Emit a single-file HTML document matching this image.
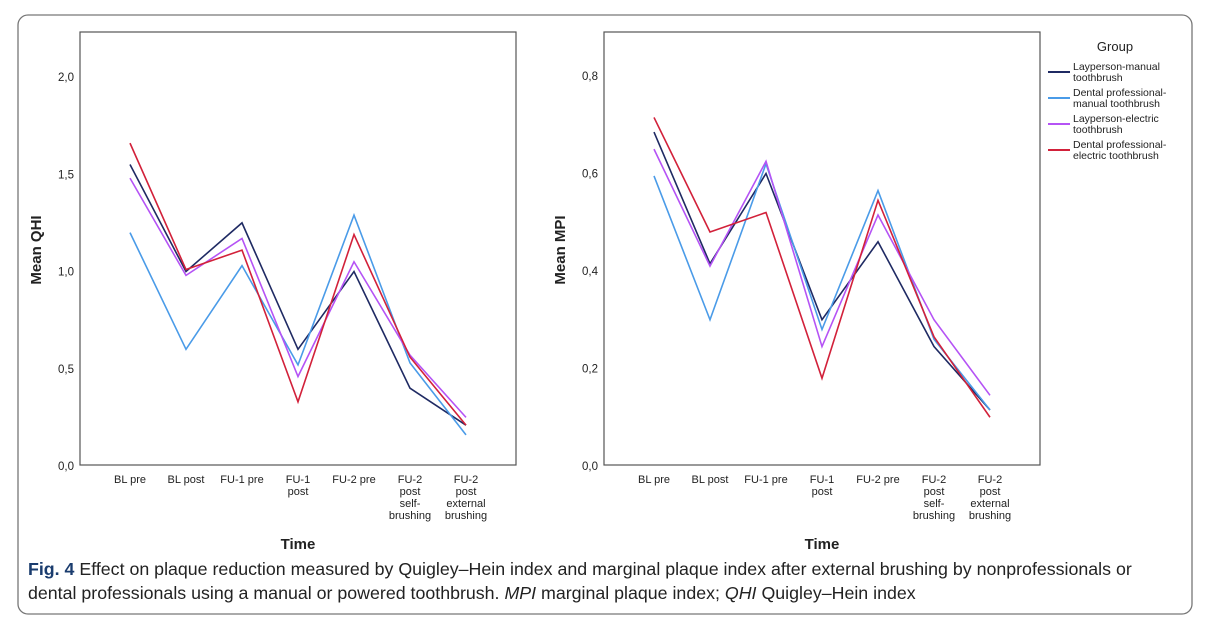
<!DOCTYPE html>
<html><head><meta charset="utf-8"><style>
body{margin:0;width:1207px;height:629px;background:#fff;overflow:hidden;font-family:"Liberation Sans",sans-serif}
svg{position:absolute;left:0;top:0}
</style></head><body>
<svg id="chart" width="1207" height="629">
<rect x="18" y="15" width="1174" height="599" rx="10" fill="none" stroke="#777" stroke-width="1.3"/>
<g id="left"></g>
<g id="right"></g>
<g id="legend"></g>
<text x="28" y="575" font-size="17.8" fill="#222"><tspan font-weight="bold" fill="#1a3c6e">Fig. 4</tspan>  Effect on plaque reduction measured by Quigley–Hein index and marginal plaque index after external brushing by nonprofessionals or</text>
<text x="28" y="599" font-size="17.8" fill="#222">dental professionals using a manual or powered toothbrush. <tspan font-style="italic">MPI</tspan> marginal plaque index; <tspan font-style="italic">QHI</tspan> Quigley–Hein index</text>
</svg>
<script>
const categories=[["BL pre"],["BL post"],["FU-1 pre"],["FU-1","post"],["FU-2 pre"],["FU-2","post","self-","brushing"],["FU-2","post","external","brushing"]];
const groupNames=[["Layperson-manual","toothbrush"],["Dental professional-","manual toothbrush"],["Layperson-electric","toothbrush"],["Dental professional-","electric toothbrush"]];
const groupColors=["#1f2a63","#4a9be8","#b553f5","#d2213a"];
const qhiLayManual=[1.55,1.0,1.25,0.6,1.0,0.4,0.21];
const qhiDentManual=[1.2,0.6,1.03,0.52,1.29,0.53,0.16];
const qhiLayElectric=[1.48,0.98,1.17,0.46,1.05,0.57,0.25];
const qhiDentElectric=[1.66,1.01,1.11,0.33,1.19,0.56,0.21];
const mpiLayManual=[0.685,0.415,0.60,0.30,0.46,0.245,0.115];
const mpiDentManual=[0.595,0.30,0.62,0.28,0.565,0.26,0.115];
const mpiLayElectric=[0.65,0.41,0.625,0.245,0.515,0.30,0.145];
const mpiDentElectric=[0.715,0.48,0.52,0.18,0.545,0.265,0.10];
const qhiTicks=[0,0.5,1.0,1.5,2.0];
const mpiTicks=[0,0.2,0.4,0.6,0.8];
const NS="http://www.w3.org/2000/svg";
function mk(parent,tag,attrs,text){const e=document.createElementNS(NS,tag);for(const k in attrs)e.setAttribute(k,attrs[k]);if(text!=null)e.textContent=text;parent.appendChild(e);return e;}
function drawChart(g,cfg){
  const yS=v=>cfg.y0-(v-0)/cfg.vmax*(cfg.y0-cfg.yTop);
  const xS=i=>cfg.x0+i*56;
  const box=mk(g,'rect',{x:cfg.bx,y:32,width:cfg.bw,height:433,fill:'none',stroke:'#555','stroke-width':1.2});
  
  
  cfg.ticks.forEach(t=>{
    const tx=mk(g,'text',{x:cfg.bx-6,y:yS(t)+4,'font-size':11.5,'text-anchor':'end',fill:'#222'},t.toFixed(1).replace('.',','));
    
    
  });
  categories.forEach((c,i)=>{
    c.forEach((line,j)=>{
      const tx=mk(g,'text',{x:xS(i),y:483+j*12,'font-size':11,'text-anchor':'middle',fill:'#222'},line);
      
      
    });
  });
  cfg.series.forEach((s,k)=>{
    const p=mk(g,'polyline',{points:s.map((v,i)=>xS(i)+','+yS(v)).join(' '),fill:'none',stroke:groupColors[k],'stroke-width':1.6});
    
    
  });
  const xt=mk(g,'text',{x:cfg.bx+cfg.bw/2,y:549,'font-size':15,'font-weight':'bold','text-anchor':'middle',fill:'#222'},'Time');
  
  
  const yt=mk(g,'text',{x:0,y:0,'font-size':15,'font-weight':'bold','text-anchor':'middle',fill:'#222',transform:'translate('+cfg.ytx+',250) rotate(-90)'},cfg.ytitle);
  
  
}
drawChart(document.getElementById('left'),{bx:80,bw:436,x0:130,y0:466,yTop:77,vmax:2.0,ticks:qhiTicks,ytitle:'Mean QHI',ytx:41,series:[qhiLayManual,qhiDentManual,qhiLayElectric,qhiDentElectric]});
drawChart(document.getElementById('right'),{bx:604,bw:436,x0:654,y0:466,yTop:76,vmax:0.8,ticks:mpiTicks,ytitle:'Mean MPI',ytx:565,series:[mpiLayManual,mpiDentManual,mpiLayElectric,mpiDentElectric]});
const lg=document.getElementById('legend');
const lt=mk(lg,'text',{x:1115,y:51,'font-size':13,'text-anchor':'middle',fill:'#222'},'Group');


groupNames.forEach((n,k)=>{
  const y=72+k*26;
  const l=mk(lg,'line',{x1:1048,x2:1070,y1:y,y2:y,stroke:groupColors[k],'stroke-width':2});
  
  
  n.forEach((s,j)=>{
    const t=mk(lg,'text',{x:1073,y:y-2+j*11,'font-size':10.5,fill:'#222'},s);
    
    
  });
});
</script>
</body></html>
